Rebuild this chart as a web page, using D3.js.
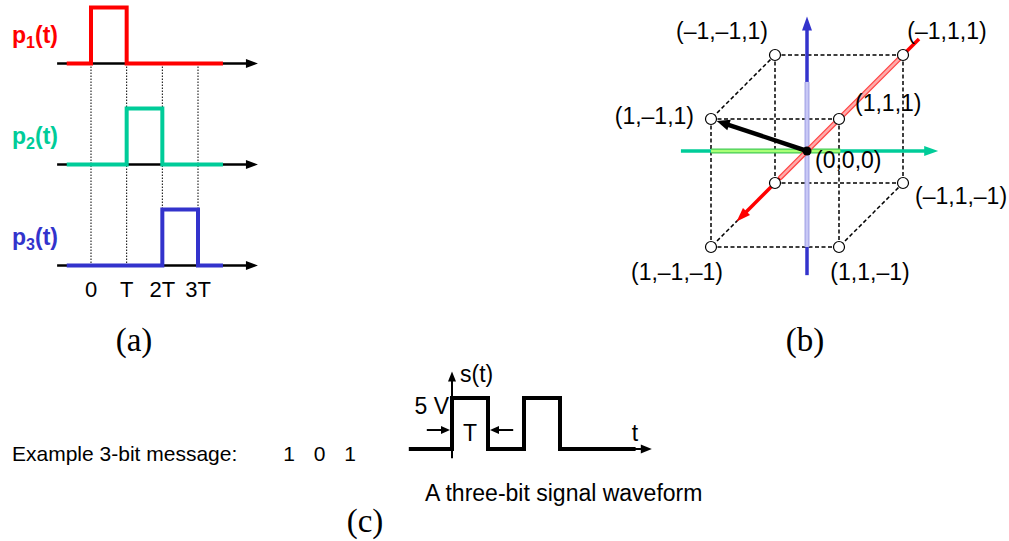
<!DOCTYPE html>
<html>
<head>
<meta charset="utf-8">
<script src="https://cdn.jsdelivr.net/npm/d3@7"></script>
<style>
  body { margin: 0; background: #fff; }
  svg { display: block; }
  .sans { font-family: "Liberation Sans", Arial, sans-serif; }
  .serif { font-family: "Liberation Serif", "Times New Roman", serif; }
</style>
</head>
<body>
<svg id="chart"></svg>
<script>
//Panel (a) data: orthogonal pulses
const pulseIndex = ["1", "2", "3"];
const pulseColors = ["#ff0000", "#00cc99", "#3333cc"];
const pulseSlots = [0, 1, 2];
const timeTicks = [0, 1, 2, 3];
const timeTickLabels = ["0", "T", "2T", "3T"];

//Panel (b) data: cube corners of the signal space
const cubeCorners = [[-1, -1, 1], [-1, 1, 1], [1, -1, 1], [1, 1, 1],
                     [-1, -1, -1], [-1, 1, -1], [1, -1, -1], [1, 1, -1]];
const cornerLabels = ["(–1,–1,1)", "(–1,1,1)", "(1,–1,1)", "(1,1,1)",
                      "", "(–1,1,–1)", "(1,–1,–1)", "(1,1,–1)"];
const signalPoint = [1, -1, 1];
const axisRangeX = [-3.5, 2.2];
const axisLightX = [-3.0, 0.85];
const axisRangeY = [-1.97, 2.05];
const axisLightY = [-1.5, 0.52];
const axisRangeZ = [-1.94, 2.1];
const axisLightZ = [-1.5, 1.08];

//Panel (c) data: 3-bit message waveform
const messageBits = [1, 0, 1];
const pulseVolts = 5;

const w = 1009;
const h = 541;

const chart = d3.select("#chart")
                .attr("width", w)
                .attr("height", h);

//draw a filled triangle arrowhead with its tip at (x, y)
function arrowHead(g, x, y, angle, len, half, color){
  g.append("path")
   .attr("d", `M0,0 L${-len},${-half} L${-len},${half} Z`)
   .attr("transform", `translate(${x},${y}) rotate(${angle})`)
   .attr("fill", color);
}

// ---------- Panel (a) ----------
const a = chart.append("g");
const tA = d3.scaleLinear().domain([0, 3]).range([91, 198]);
const rowA = d3.scalePoint().domain(pulseSlots).range([63.5, 265.5]);
const ampA = d3.scaleLinear().domain([0, 1]).range([0, -56]);

//dotted guides
a.selectAll(".guide")
 .data(timeTicks)
 .enter()
 .append("line")
 .attr("x1", (d) => tA(d))
 .attr("x2", (d) => tA(d))
 .attr("y1", rowA(0))
 .attr("y2", rowA(2))
 .attr("stroke", "#000")
 .attr("stroke-width", 1)
 .attr("stroke-dasharray", "1.5,1.5");

const pulseLine = d3.line()
                    .x((d) => tA(d.t))
                    .y((d) => ampA(d.v))
                    .curve(d3.curveStepAfter);

pulseSlots.forEach((slot, i) => {
  const row = a.append("g").attr("transform", `translate(0,${rowA(slot)})`);
  row.append("line")
     .attr("x1", tA(-0.95)).attr("x2", tA(4.5))
     .attr("y1", 0).attr("y2", 0)
     .attr("stroke", "#000").attr("stroke-width", 2.5);
  arrowHead(row, tA(4.68), 0, 0, 12, 4.5, "#000");

  const pts = [{t: -0.68, v: 0}, {t: slot, v: 1}, {t: slot + 1, v: 0}, {t: 3.7, v: 0}];
  row.append("path")
     .attr("d", pulseLine(pts))
     .attr("fill", "none")
     .attr("stroke", pulseColors[i])
     .attr("stroke-width", 4);

  const lbl = row.append("text")
                 .classed("sans", true)
                 .attr("x", 12)
                 .attr("y", -21)
                 .attr("font-size", 23)
                 .attr("font-weight", "bold")
                 .attr("fill", pulseColors[i]);
  lbl.append("tspan").text("p");
  lbl.append("tspan").attr("font-size", 16).attr("dy", 5).text(pulseIndex[i]);
  lbl.append("tspan").attr("dy", -5).text("(t)");
});

a.selectAll(".tick")
 .data(timeTicks)
 .enter()
 .append("text")
 .classed("sans", true)
 .attr("x", (d) => tA(d))
 .attr("y", 297)
 .attr("text-anchor", "middle")
 .attr("font-size", 22)
 .text((d, i) => timeTickLabels[i]);

// ---------- Panel (b) ----------
const b = chart.append("g");
const ox = 807, oy = 151;
const sY = d3.scaleLinear().domain([-1, 1]).range([-64, 64]);   //y axis: horizontal
const sXh = d3.scaleLinear().domain([-1, 1]).range([32, -32]);  //x axis: diagonal
const sXv = d3.scaleLinear().domain([-1, 1]).range([-32, 32]);
const sZ = d3.scaleLinear().domain([-1, 1]).range([64, -64]);   //z axis: vertical
const proj = (p) => [ox + sXh(p[0]) + sY(p[1]), oy + sXv(p[0]) + sZ(p[2])];

//cube edges: corners differing in one coordinate
const edges = [];
cubeCorners.forEach((c1, i) => {
  cubeCorners.forEach((c2, j) => {
    if (j > i && c1.filter((v, k) => v !== c2[k]).length === 1) edges.push([c1, c2]);
  });
});
b.selectAll(".edge")
 .data(edges)
 .enter()
 .append("line")
 .attr("x1", (d) => proj(d[0])[0]).attr("y1", (d) => proj(d[0])[1])
 .attr("x2", (d) => proj(d[1])[0]).attr("y2", (d) => proj(d[1])[1])
 .attr("stroke", "#000")
 .attr("stroke-width", 1.5)
 .attr("stroke-dasharray", "4,2.5");

//axes with a lighter section across the cube
function drawAxis(range, light, toPoint, dark, mid, pale){
  const p0 = proj(toPoint(range[0]));
  const p1 = proj(toPoint(range[1]));
  const ang = Math.atan2(p1[1] - p0[1], p1[0] - p0[0]);
  const back = [p1[0] - 12 * Math.cos(ang), p1[1] - 12 * Math.sin(ang)];
  b.append("line")
   .attr("x1", p0[0]).attr("y1", p0[1]).attr("x2", back[0]).attr("y2", back[1])
   .attr("stroke", dark).attr("stroke-width", 3.5);
  const l0 = proj(toPoint(light[0]));
  const l1 = proj(toPoint(light[1]));
  b.append("line")
   .attr("x1", l0[0]).attr("y1", l0[1]).attr("x2", l1[0]).attr("y2", l1[1])
   .attr("stroke", mid).attr("stroke-width", 5);
  b.append("line")
   .attr("x1", l0[0]).attr("y1", l0[1]).attr("x2", l1[0]).attr("y2", l1[1])
   .attr("stroke", pale).attr("stroke-width", 2.5);
  arrowHead(b, p1[0], p1[1], ang * 180 / Math.PI, 14, 5, dark);
}
drawAxis(axisRangeZ, axisLightZ, (v) => [0, 0, v], "#3333cc", "#a8a8e8", "#c8c8f6");
drawAxis(axisRangeY, axisLightY, (v) => [0, v, 0], "#00cc99", "#44cc55", "#aaff77");
drawAxis(axisRangeX, axisLightX, (v) => [v, 0, 0], "#ff0000", "#ff4444", "#ffaaaa");

//signal vector from origin
const o = proj([0, 0, 0]);
const s = proj(signalPoint);
const sAng = Math.atan2(s[1] - o[1], s[0] - o[0]);
const tip = [s[0] - 6 * Math.cos(sAng), s[1] - 6 * Math.sin(sAng)];
b.append("line")
 .attr("x1", o[0]).attr("y1", o[1])
 .attr("x2", tip[0] - 10 * Math.cos(sAng)).attr("y2", tip[1] - 10 * Math.sin(sAng))
 .attr("stroke", "#000").attr("stroke-width", 4.5);
arrowHead(b, tip[0], tip[1], sAng * 180 / Math.PI, 13, 5.5, "#000");

b.selectAll(".corner")
 .data(cubeCorners)
 .enter()
 .append("circle")
 .attr("cx", (d) => proj(d)[0])
 .attr("cy", (d) => proj(d)[1])
 .attr("r", 5.5)
 .attr("fill", "#fff")
 .attr("stroke", "#000")
 .attr("stroke-width", 1.2);

b.append("circle")
 .attr("cx", o[0]).attr("cy", o[1])
 .attr("r", 4.5)
 .attr("fill", "#000");

//label placement relative to each corner
const labelOffsets = [[-53, -16, "middle"], [44, -16, "middle"], [-17, 5, "end"], [16, -8, "start"],
                      [0, 0, "middle"], [12, 21, "start"], [-34, 33, "middle"], [31, 33, "middle"]];
b.selectAll(".cornerLabel")
 .data(cubeCorners)
 .enter()
 .append("text")
 .classed("sans", true)
 .attr("x", (d, i) => proj(d)[0] + labelOffsets[i][0])
 .attr("y", (d, i) => proj(d)[1] + labelOffsets[i][1])
 .attr("text-anchor", (d, i) => labelOffsets[i][2])
 .attr("font-size", 23)
 .text((d, i) => cornerLabels[i]);

b.append("text")
 .classed("sans", true)
 .attr("x", o[0] + 8)
 .attr("y", o[1] + 17)
 .attr("font-size", 23)
 .text("(0,0,0)");

// ---------- Panel (c) ----------
const c = chart.append("g");
const tC = d3.scaleLinear().domain([0, 3]).range([452, 560]);
const vC = d3.scaleLinear().domain([0, pulseVolts]).range([449, 398]);

const wavePts = [{t: -1.2, v: 0}]
  .concat(messageBits.map((bit, i) => ({t: i, v: bit * pulseVolts})))
  .concat([{t: messageBits.length, v: 0}, {t: 5.1, v: 0}]);

const waveLine = d3.line()
                   .x((d) => tC(d.t))
                   .y((d) => vC(d.v))
                   .curve(d3.curveStepAfter);

//vertical s(t) axis
c.append("line")
 .attr("x1", tC(0)).attr("x2", tC(0))
 .attr("y1", vC(-0.9)).attr("y2", vC(7.2))
 .attr("stroke", "#000").attr("stroke-width", 2);
arrowHead(c, tC(0), vC(7.6), -90, 10, 4, "#000");

c.append("path")
 .attr("d", waveLine(wavePts))
 .attr("fill", "none")
 .attr("stroke", "#000")
 .attr("stroke-width", 4);

c.append("line")
 .attr("x1", tC(5.0)).attr("x2", tC(5.3))
 .attr("y1", vC(0)).attr("y2", vC(0))
 .attr("stroke", "#000").attr("stroke-width", 2);
arrowHead(c, tC(5.55), vC(0), 0, 11, 4.5, "#000");

//T dimension arrows
const yT = vC(1.86);
c.append("line")
 .attr("x1", tC(-0.7)).attr("x2", tC(-0.2))
 .attr("y1", yT).attr("y2", yT)
 .attr("stroke", "#000").attr("stroke-width", 2);
arrowHead(c, tC(0) - 2, yT, 0, 9, 4, "#000");
c.append("line")
 .attr("x1", tC(1.7)).attr("x2", tC(1.2))
 .attr("y1", yT).attr("y2", yT)
 .attr("stroke", "#000").attr("stroke-width", 2);
arrowHead(c, tC(1) + 2, yT, 180, 9, 4, "#000");

c.append("text").classed("sans", true)
 .attr("x", tC(0.5)).attr("y", 441).attr("text-anchor", "middle")
 .attr("font-size", 23).text("T");
c.append("text").classed("sans", true)
 .attr("x", tC(0) + 8).attr("y", 382)
 .attr("font-size", 23).text("s(t)");
c.append("text").classed("sans", true)
 .attr("x", tC(0) - 3).attr("y", 414).attr("text-anchor", "end")
 .attr("font-size", 23).text("5 V");
c.append("text").classed("sans", true)
 .attr("x", 635).attr("y", 441).attr("text-anchor", "middle")
 .attr("font-size", 23).text("t");

c.append("text").classed("sans", true)
 .attr("x", 12).attr("y", 461)
 .attr("font-size", 21).text("Example 3-bit message:");

const bitX = d3.scaleLinear().domain([0, messageBits.length - 1]).range([289, 350]);
c.selectAll(".bit")
 .data(messageBits)
 .enter()
 .append("text")
 .classed("sans", true)
 .attr("x", (d, i) => bitX(i))
 .attr("y", 461)
 .attr("text-anchor", "middle")
 .attr("font-size", 21)
 .text((d) => d);

c.append("text").classed("sans", true)
 .attr("x", 425).attr("y", 501)
 .attr("font-size", 23).text("A three-bit signal waveform");

// ---------- Panel captions ----------
const captions = [["(a)", 134, 351], ["(b)", 805, 351], ["(c)", 365, 532]];
chart.selectAll(".caption")
     .data(captions)
     .enter()
     .append("text")
     .classed("serif", true)
     .attr("x", (d) => d[1])
     .attr("y", (d) => d[2])
     .attr("text-anchor", "middle")
     .attr("font-size", 33)
     .text((d) => d[0]);
</script>
</body>
</html>
